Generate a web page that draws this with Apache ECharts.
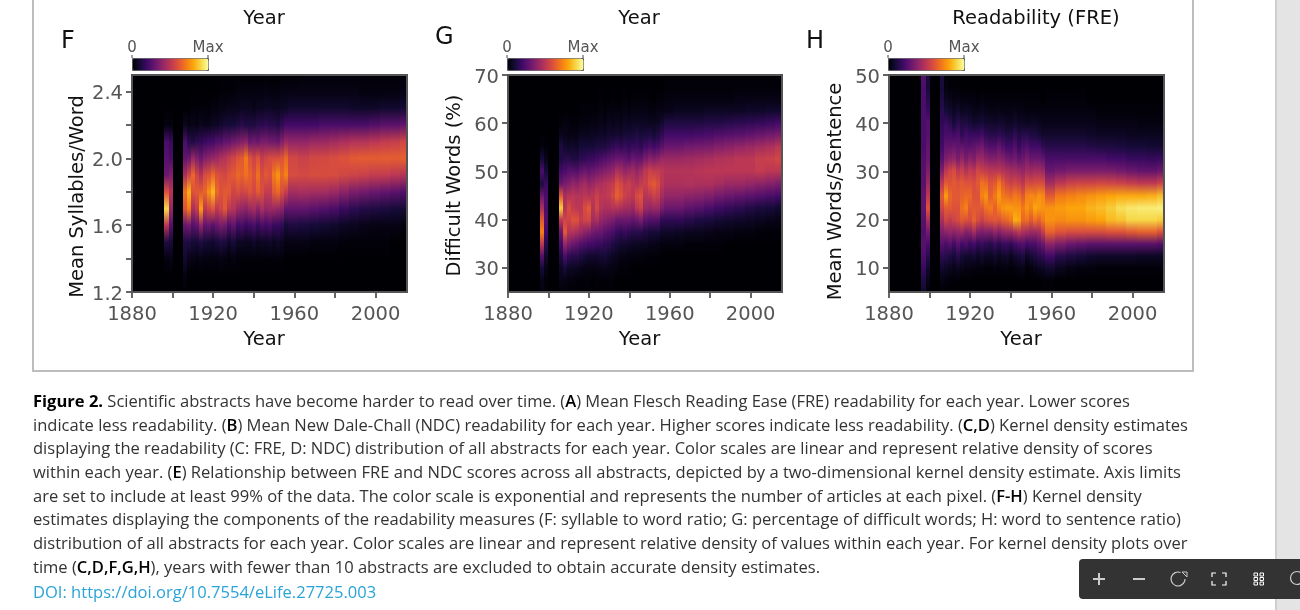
<!DOCTYPE html>
<html>
<head>
<meta charset="utf-8">
<style>html,body{margin:0;padding:0;background:#fff}#c{width:1300px;height:610px}</style>
<script src="https://cdn.jsdelivr.net/npm/echarts@6/dist/echarts.min.js"></script>
</head>
<body>
<div id="c"></div>
<script>
// Left edge of each density column (years); the last entry closes the final column.
const yearEdges = [1880,1896,1898,1900,1905,1907,1909,1911,1913,1915,1917,1919,1921,1923,1925,1927,1929,1931,1933,1935,1937,1939,1941,1943,1945,1947,1949,1951,1953,1955,1957,1962,1967,1972,1977,1982,1987,1992,1997,2002,2007,2012,2015.5];
const xTicks = [1880,1900,1920,1940,1960,1980,2000];
const xLabels = [1880,1920,1960,2000];

// Panel F: mean syllables per word. Each line is one column, top row to bottom row.
const fRows = [2.5,2.4,2.3,2.2,2.1,2.0,1.9,1.8,1.7,1.6,1.5,1.4,1.3,1.2];
const fTicks = [1.2,1.4,1.6,1.8,2.0,2.2,2.4];
const fLabels = [1.2,1.6,2.0,2.4];
const fDensity = [
[0,0,0,0,0,0,0,0,0,0,0,0,0,0],
[0,0,0,2,22,25,30,60,90,50,12,2,0,0],
[0,0,0,2,18,22,35,48,40,25,10,3,0,0],
[0,0,0,0,0,0,0,0,0,0,0,0,0,0],
[0,0,0,5,22,28,45,68,60,30,12,8,3,0],
[0,0,0,3,14,30,55,82,70,32,12,4,0,0],
[0,0,1,4,12,40,66,60,45,25,10,3,0,0],
[0,0,1,3,15,35,55,62,52,28,9,2,0,0],
[0,0,1,5,16,30,48,62,78,40,12,3,0,0],
[0,0,1,4,18,35,58,65,50,28,10,2,0,0],
[0,0,1,4,20,38,60,75,55,30,9,2,0,0],
[0,0,2,6,20,40,66,84,60,26,8,2,0,0],
[0,0,2,6,24,42,60,66,50,30,10,2,0,0],
[0,1,3,8,24,46,58,60,55,34,12,3,0,0],
[0,1,3,10,28,48,56,62,62,32,11,2,0,0],
[0,1,4,10,28,52,60,62,50,24,7,1,0,0],
[0,1,4,10,32,55,62,55,48,28,10,2,0,0],
[0,2,4,12,34,60,66,58,42,20,6,1,0,0],
[0,2,5,14,36,62,64,55,40,22,6,1,0,0],
[0,2,5,12,38,70,68,56,38,18,5,1,0,0],
[0,2,5,12,30,60,64,60,42,20,5,1,0,0],
[0,2,4,12,32,55,60,56,44,22,7,1,0,0],
[0,2,5,14,30,60,68,62,38,18,5,1,0,0],
[0,2,5,14,34,52,58,58,45,22,6,1,0,0],
[0,3,6,16,34,55,62,52,40,20,6,1,0,0],
[0,2,6,14,32,58,60,52,42,22,7,1,0,0],
[0,2,5,14,32,58,70,62,42,18,5,1,0,0],
[0,2,5,12,30,58,76,66,40,18,7,1,0,0],
[0,3,6,16,36,60,66,58,38,16,5,1,0,0],
[0,3,6,20,42,66,72,52,28,10,3,0,0,0],
[0,3,8,20,40,56,58,44,28,12,3,0,0,0],
[1,3,8,20,40,54,57,45,28,11,3,0,0,0],
[1,3,8,20,42,56,58,44,26,10,2,0,0,0],
[1,3,8,22,42,57,58,44,24,9,2,0,0,0],
[1,3,8,22,44,58,58,42,22,8,2,0,0,0],
[1,3,8,22,46,60,56,38,18,6,1,0,0,0],
[1,3,7,22,48,62,55,34,15,5,1,0,0,0],
[1,2,7,22,48,63,54,32,13,4,1,0,0,0],
[1,2,7,24,50,63,52,30,12,3,1,0,0,0],
[1,2,8,26,52,63,52,28,11,3,1,0,0,0],
[1,2,8,26,53,63,50,26,10,3,0,0,0,0],
[1,3,9,28,56,64,48,24,9,2,0,0,0,0]
];

// Panel G: difficult words (%).
const gRows = [70,67.5,65,62.5,60,57.5,55,52.5,50,47.5,45,42.5,40,37.5,35,32.5,30,27.5,25];
const gTicks = [30,40,50,60,70];
const gLabels = [30,40,50,60,70];
const gDensity = [
[0,0,0,0,0,0,0,0,0,0,0,0,0,0,0,0,0,0,0],
[0,0,0,0,0,0,2,10,22,12,30,45,62,72,50,25,10,4,2],
[0,0,0,0,0,0,1,4,10,18,22,22,24,20,14,8,3,1,1],
[0,0,0,0,0,0,0,0,0,0,0,0,0,0,0,0,0,0,0],
[0,0,0,0,1,5,12,12,20,30,62,88,50,30,20,12,6,4,1],
[0,0,0,0,2,4,8,14,22,34,45,48,55,62,40,22,10,3,1],
[0,0,0,0,2,3,7,14,25,36,48,58,55,48,34,16,6,2,0],
[0,0,0,0,1,3,8,12,25,40,50,52,60,48,30,14,6,2,0],
[0,0,0,0,1,3,7,12,24,38,48,50,60,45,28,14,5,1,0],
[0,0,0,1,2,5,10,15,28,42,48,50,52,42,24,12,4,1,0],
[0,0,0,1,2,5,10,16,30,44,50,58,55,38,22,10,3,1,0],
[0,0,0,1,2,5,10,18,28,40,48,62,56,36,20,8,3,1,0],
[0,0,0,1,3,6,10,18,30,42,50,48,44,32,20,8,3,0,0],
[0,0,0,1,3,6,12,20,32,45,54,56,46,30,18,8,3,1,0],
[0,0,1,2,4,7,12,22,34,46,50,48,40,30,18,9,4,1,0],
[0,0,0,1,3,6,12,24,36,48,50,46,38,26,16,10,4,1,0],
[0,0,0,2,5,8,14,26,38,50,52,46,36,24,15,8,3,1,0],
[0,0,1,2,4,8,16,28,40,52,56,48,34,22,12,6,3,1,0],
[0,0,0,2,5,9,18,30,46,60,64,48,30,18,10,5,2,0,0],
[0,0,0,2,4,8,16,30,44,56,60,46,30,16,8,3,1,0,0],
[0,0,1,3,6,10,18,28,40,52,54,44,30,18,8,3,1,0,0],
[0,0,0,2,5,10,16,26,42,54,52,44,30,16,7,2,1,0,0],
[0,0,1,3,6,10,18,30,44,50,50,42,28,14,6,2,0,0,0],
[0,0,1,3,6,12,18,28,40,48,58,50,30,14,6,2,0,0,0],
[0,0,1,3,6,10,16,28,44,52,60,54,34,14,5,2,0,0,0],
[0,0,1,3,6,11,20,34,50,54,48,42,26,12,5,1,0,0,0],
[0,0,1,2,5,12,22,38,54,60,50,40,24,10,4,1,0,0,0],
[0,0,0,2,5,10,20,36,52,62,54,42,24,10,4,1,0,0,0],
[0,0,1,3,6,12,22,38,52,58,52,42,24,10,3,1,0,0,0],
[0,0,1,3,8,16,26,42,50,50,44,34,16,7,2,0,0,0,0],
[0,1,2,4,12,20,30,42,48,46,40,30,16,7,2,0,0,0,0],
[0,1,2,5,12,20,30,42,48,46,40,30,16,6,2,0,0,0,0],
[0,1,2,5,12,20,32,43,48,47,38,27,14,5,1,0,0,0,0],
[0,1,2,5,12,21,33,44,49,46,37,25,12,5,1,0,0,0,0],
[0,1,2,6,13,22,34,45,50,46,35,22,11,4,1,0,0,0,0],
[0,1,2,6,13,24,36,47,50,44,32,19,9,3,1,0,0,0,0],
[0,1,2,6,14,25,38,48,50,42,30,17,8,3,0,0,0,0,0],
[0,1,3,6,15,26,40,50,50,42,28,15,7,2,0,0,0,0,0],
[0,1,3,7,16,28,42,50,50,40,26,13,6,2,0,0,0,0,0],
[0,1,3,7,17,30,44,53,52,38,24,11,5,1,0,0,0,0,0],
[0,1,3,8,18,32,46,54,50,36,22,10,4,1,0,0,0,0,0],
[0,1,3,8,20,34,50,56,50,34,20,8,3,1,0,0,0,0,0]
];

// Panel H: mean words per sentence.
const hRows = [50,47.5,45,42.5,40,37.5,35,32.5,30,27.5,25,22.5,20,17.5,15,12.5,10,7.5,5];
const hTicks = [10,20,30,40,50];
const hLabels = [10,20,30,40,50];
const hDensity = [
[0,0,0,0,0,0,0,0,0,0,0,0,0,0,0,0,0,0,0],
[25,22,22,22,22,22,22,24,25,25,28,28,25,24,25,22,18,12,8],
[12,10,14,18,25,25,28,30,35,42,50,60,45,32,22,14,8,4,1],
[0,0,0,0,0,0,0,0,0,0,0,0,0,0,0,0,0,0,0],
[12,10,12,14,16,18,20,25,35,50,62,55,45,35,25,15,8,3,1],
[1,2,5,10,18,22,28,35,50,62,78,62,55,38,22,14,6,2,0],
[0,1,4,8,15,22,28,38,55,60,66,62,52,40,25,12,5,1,0],
[0,1,3,6,10,20,30,40,58,62,62,60,55,38,20,10,4,1,0],
[0,1,3,8,14,22,28,34,50,60,62,60,58,40,26,14,5,1,0],
[0,0,2,5,12,16,28,40,54,62,64,68,62,42,20,10,4,0,0],
[0,0,2,6,12,20,26,34,48,60,66,72,60,36,22,8,3,0,0],
[0,0,2,5,10,18,26,38,52,60,66,62,58,38,18,8,3,0,0],
[0,0,2,4,8,18,28,35,50,58,60,62,64,44,20,9,2,0,0],
[0,0,1,4,9,18,30,42,56,62,60,62,58,36,16,6,2,0,0],
[0,0,2,5,10,20,32,42,54,68,72,62,54,34,18,8,2,0,0],
[0,0,1,4,8,16,26,38,52,66,76,68,58,36,16,6,1,0,0],
[0,0,1,3,8,14,24,36,50,60,64,70,60,35,14,6,1,0,0],
[0,0,1,3,7,14,24,36,50,62,70,64,62,40,18,8,2,0,0],
[0,0,1,4,8,16,28,38,50,70,78,72,60,36,14,5,1,0,0],
[0,0,1,3,8,14,24,36,48,62,70,76,64,40,18,7,2,0,0],
[0,0,1,3,6,12,20,32,46,56,68,78,66,42,18,8,2,0,0],
[0,0,1,3,6,12,20,30,44,54,66,78,70,42,16,5,1,0,0],
[0,0,1,4,8,16,24,32,44,56,70,76,82,46,20,8,2,0,0],
[0,0,1,3,6,12,18,28,42,54,68,76,80,50,22,10,3,0,0],
[0,0,1,3,6,14,22,30,40,50,62,70,66,46,24,12,4,0,0],
[0,0,1,2,5,14,24,34,44,58,72,76,68,44,20,6,1,0,0],
[0,0,1,2,6,12,20,30,42,56,74,72,62,42,22,9,2,0,0],
[0,0,1,2,6,12,20,30,44,58,72,80,68,42,22,12,4,0,0],
[0,0,1,2,5,10,20,30,44,58,76,78,64,44,26,14,5,0,0],
[0,0,0,2,4,8,16,28,42,58,74,76,70,52,30,16,6,1,0],
[0,0,1,2,4,8,14,22,30,44,62,76,76,64,38,20,8,1,0],
[0,0,1,2,4,8,14,22,32,50,70,78,74,60,34,14,5,0,0],
[0,0,1,2,4,8,14,22,34,54,72,80,76,58,30,12,3,0,0],
[0,0,1,2,4,8,14,22,34,55,74,80,76,58,28,10,2,0,0],
[0,0,0,2,4,7,13,22,34,55,76,83,78,58,26,8,2,0,0],
[0,0,0,1,3,6,12,22,34,56,78,85,80,58,26,7,1,0,0],
[0,0,0,1,3,6,12,20,34,55,80,88,84,60,26,7,1,0,0],
[0,0,0,1,3,6,11,20,32,54,81,92,86,60,26,7,1,0,0],
[0,0,0,1,3,5,10,18,30,52,81,94,90,62,26,7,1,0,0],
[0,0,0,1,2,5,10,18,28,50,81,95,90,64,26,6,1,0,0],
[0,0,0,1,2,5,9,17,28,50,82,95,90,64,26,6,1,0,0],
[0,0,0,1,2,5,9,18,30,54,85,96,88,60,24,6,1,0,0]
];

const captionLines = [
  '{b|Figure 2.} Scientific abstracts have become harder to read over time. ({m|A}) Mean Flesch Reading Ease (FRE) readability for each year. Lower scores',
  'indicate less readability. ({m|B}) Mean New Dale-Chall (NDC) readability for each year. Higher scores indicate less readability. ({m|C,D}) Kernel density estimates',
  'displaying the readability (C: FRE, D: NDC) distribution of all abstracts for each year. Color scales are linear and represent relative density of scores',
  'within each year. ({m|E}) Relationship between FRE and NDC scores across all abstracts, depicted by a two-dimensional kernel density estimate. Axis limits',
  'are set to include at least 99% of the data. The color scale is exponential and represents the number of articles at each pixel. ({m|F-H}) Kernel density',
  'estimates displaying the components of the readability measures (F: syllable to word ratio; G: percentage of difficult words; H: word to sentence ratio)',
  'distribution of all abstracts for each year. Color scales are linear and represent relative density of values within each year. For kernel density plots over',
  'time ({m|C,D,F,G,H}), years with fewer than 10 abstracts are excluded to obtain accurate density estimates.'
];
const captionY = [402.5,426,449.7,473.3,497,520.6,544.3,567.8];
const doiText = 'DOI: https://doi.org/10.7554/eLife.27725.003';

const inferno = ['#000004','#160b39','#420a68','#6a176e','#932667','#bc3754','#dd513a','#f37819','#fca50a','#f6d746','#fcffa4'];
function infernoAt(v){
  const t = Math.max(0,Math.min(100,v))/10, i = Math.min(9,Math.floor(t));
  return echarts.color.lerp(t-i,[inferno[i],inferno[i+1]]);
}
function cells(rows,density){
  const out=[];
  density.forEach((col,c)=>{
    for(let r=0;r<rows.length-1;r++){
      out.push([yearEdges[c],yearEdges[c+1],rows[r+1],rows[r],col[r],col[r+1]]);
    }
  });
  return out;
}
function renderCell(params,api){
  const a=api.coord([api.value(0),api.value(3)]), b=api.coord([api.value(1),api.value(2)]);
  const x0=Math.round(a[0]),x1=Math.round(b[0]),y0=Math.round(a[1]),y1=Math.round(b[1]);
  return {type:'rect',shape:{x:x0,y:y0,width:x1-x0,height:y1-y0},
    style:{fill:new echarts.graphic.LinearGradient(0,0,0,1,[
      {offset:0,color:infernoAt(api.value(4))},{offset:1,color:infernoAt(api.value(5))}])}};
}

const panels = [
  {letter:'F',lx:69,ly:30,left:132,width:275,yMin:1.2,yMax:2.5,rows:fRows,density:fDensity,ticks:fTicks,labels:fLabels,name:'Mean Syllables/Word',namePad:26,fmt:v=>v.toFixed(1),top:'Year',topX:264,vmLeft:132},
  {letter:'G',lx:443,ly:26,left:508,width:274,yMin:25,yMax:70,rows:gRows,density:gDensity,ticks:gTicks,labels:gLabels,name:'Difficult Words (%)',namePad:4,fmt:v=>String(v),top:'Year',topX:639,vmLeft:507},
  {letter:'H',lx:814,ly:30,left:889,width:275,yMin:5,yMax:50,rows:hRows,density:hDensity,ticks:hTicks,labels:hLabels,name:'Mean Words/Sentence',namePad:16,fmt:v=>String(v),top:'Readability (FRE)',topX:1036,vmLeft:888}
];

const AXIS_FONT='"DejaVu Sans"';
const grid=[],xAxis=[],yAxis=[],series=[],visualMap=[],graphic=[];
panels.forEach((p,i)=>{
  grid.push({left:p.left,top:75,width:p.width,height:217,show:true,z:10,backgroundColor:'transparent',borderColor:'#555',borderWidth:2});
  xAxis.push({gridIndex:i,type:'value',min:1880,max:2015.5,splitLine:{show:false},
    axisLine:{show:false},
    axisTick:{show:true,length:6,inside:false,lineStyle:{color:'#333',width:1.5},customValues:xTicks},
    axisLabel:{color:'#555',fontFamily:AXIS_FONT,fontSize:19.5,margin:13,customValues:xLabels,formatter:v=>String(v)},
    name:'Year',nameLocation:'middle',nameGap:38,nameTextStyle:{color:'#111',fontFamily:AXIS_FONT,fontSize:19.5,padding:[0,11,0,0]}});
  yAxis.push({gridIndex:i,type:'value',min:p.yMin,max:p.yMax,splitLine:{show:false},
    axisLine:{show:false},
    axisTick:{show:true,length:6,lineStyle:{color:'#333',width:1.5},customValues:p.ticks},
    axisLabel:{margin:9,customValues:p.labels,formatter:v=>'{t|'+p.fmt(v)+'}',
      rich:{t:{color:'#555',fontFamily:AXIS_FONT,fontSize:19.5,padding:[5,0,0,0]}}},
    name:p.name,nameLocation:'middle',nameGap:43,nameRotate:90,
    nameTextStyle:{color:'#111',fontFamily:AXIS_FONT,fontSize:19.5,padding:[0,p.namePad,0,0]}});
  series.push({type:'custom',name:p.name,coordinateSystem:'cartesian2d',xAxisIndex:i,yAxisIndex:i,
    clip:true,animation:false,silent:true,renderItem:renderCell,
    encode:{x:[0,1],y:[2,3]},data:cells(p.rows,p.density)});
  visualMap.push({type:'continuous',seriesIndex:i,dimension:4,min:0,max:100,orient:'horizontal',
    calculable:false,realtime:false,left:p.vmLeft,top:58,itemWidth:12,itemHeight:76,padding:0,
    borderColor:'#555',borderWidth:1,showLabel:false,text:null,hoverLink:false,inRange:{color:inferno}});
  graphic.push(
    {type:'text',left:p.lx-8,top:p.ly,style:{text:p.letter,font:'24px "DejaVu Sans"',fill:'#111'}},
    {type:'text',x:p.topX,y:19,style:{text:p.top,font:'19.5px "DejaVu Sans"',fill:'#111',align:'center',verticalAlign:'middle'}},
    {type:'text',x:p.vmLeft,y:48,style:{text:'0',font:'15px "DejaVu Sans"',fill:'#555',align:'center',verticalAlign:'middle'}},
    {type:'text',x:p.vmLeft+76,y:48,style:{text:'Max',font:'15px "DejaVu Sans"',fill:'#555',align:'center',verticalAlign:'middle'}},
    {type:'line',shape:{x1:p.vmLeft,y1:55,x2:p.vmLeft,y2:58},style:{stroke:'#444',lineWidth:1}},
    {type:'line',shape:{x1:p.vmLeft+76,y1:55,x2:p.vmLeft+76,y2:58},style:{stroke:'#444',lineWidth:1}}
  );
});

// Page furniture: figure frame, scrollbar gutter, caption and viewer toolbar.
graphic.unshift(
  {type:'rect',z:-1,shape:{x:33,y:-10,width:1160,height:381},style:{fill:'#fff',stroke:'#bdbdbd',lineWidth:2}},
  {type:'rect',z:-1,shape:{x:1276,y:0,width:24,height:610},style:{fill:'#e4e4e4'}},
  {type:'rect',z:-1,shape:{x:1275,y:0,width:2,height:610},style:{fill:'#cfcfcf'}}
);
const CAPTION_SIZE=16.55;
const CAPTION_FONT=CAPTION_SIZE+'px "Open Sans"';
captionLines.forEach((t,i)=>graphic.push({type:'text',x:33,y:captionY[i],style:{
  text:t,font:CAPTION_FONT,fill:'#333',verticalAlign:'middle',
  rich:{b:{fontFamily:'Open Sans',fontSize:CAPTION_SIZE,fontWeight:'bold',fill:'#000'},m:{fontFamily:'Open Sans',fontSize:CAPTION_SIZE,fontWeight:600,fill:'#000'}}}}));
graphic.push({type:'text',x:33,y:593.5,style:{text:doiText,font:CAPTION_FONT,fill:'#2aa3d8',verticalAlign:'middle'}});
graphic.push(
  {type:'rect',shape:{x:1079,y:559,width:240,height:40,r:4},style:{fill:'#333'}},
  {type:'line',shape:{x1:1093,y1:579,x2:1105,y2:579},style:{stroke:'#ccc',lineWidth:2}},
  {type:'line',shape:{x1:1099,y1:573,x2:1099,y2:585},style:{stroke:'#ccc',lineWidth:2}},
  {type:'line',shape:{x1:1133,y1:579,x2:1145,y2:579},style:{stroke:'#ccc',lineWidth:2}},
  {type:'arc',shape:{cx:1178,cy:579,r:7,startAngle:-1.2,endAngle:0,clockwise:false},style:{fill:'none',stroke:'#ccc',lineWidth:1.2}},
  {type:'polygon',shape:{points:[[1182,572],[1187,572],[1187,577]]},style:{fill:'none',stroke:'#ccc',lineWidth:1}},
  {type:'polyline',shape:{points:[[1212,577],[1212,573],[1216,573]]},style:{fill:'none',stroke:'#fff',lineWidth:1.2}},
  {type:'polyline',shape:{points:[[1222,573],[1226,573],[1226,577]]},style:{fill:'none',stroke:'#fff',lineWidth:1.2}},
  {type:'polyline',shape:{points:[[1212,581],[1212,585],[1216,585]]},style:{fill:'none',stroke:'#fff',lineWidth:1.2}},
  {type:'polyline',shape:{points:[[1222,585],[1226,585],[1226,581]]},style:{fill:'none',stroke:'#fff',lineWidth:1.2}},
  {type:'arc',shape:{cx:1297,cy:578,r:6.5,startAngle:0,endAngle:Math.PI*2},style:{fill:'none',stroke:'#ccc',lineWidth:1.2}}
);
[0,1].forEach(col=>[0,1,2].forEach(row=>graphic.push(
  {type:'rect',shape:{x:1254+col*6,y:573+row*4.5,width:3.5,height:3},style:{fill:'none',stroke:'#fff',lineWidth:1}})));

const chart = echarts.init(document.getElementById('c'),null,{renderer:'canvas'});
chart.setOption({animation:false,backgroundColor:'#fff',grid,xAxis,yAxis,visualMap,series,graphic});
</script>
</body>
</html>
